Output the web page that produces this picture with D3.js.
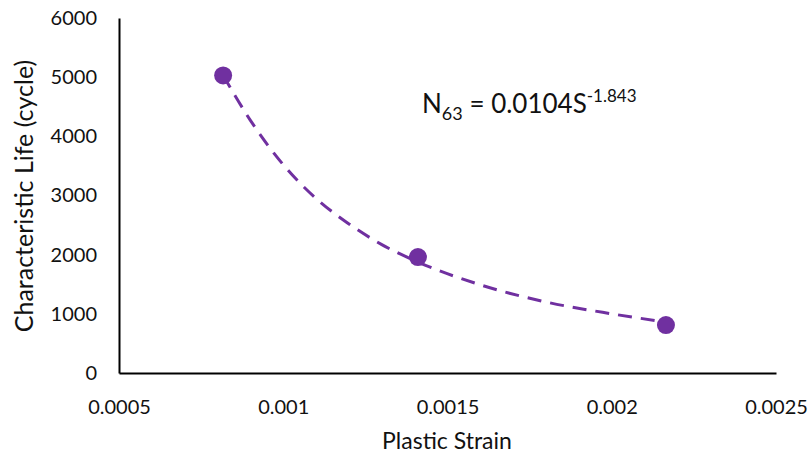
<!DOCTYPE html>
<html>
<head>
<meta charset="utf-8">
<script src="https://cdn.jsdelivr.net/npm/d3@7"></script>
<style>
  body { margin: 0; background: #fff; }
  svg { font-family: Lato, "Open Sans", sans-serif; }
</style>
</head>
<body>
<svg width="809" height="455"></svg>
<script>
// measured points
let strain = [0.000817, 0.00141, 0.002165];
let life = [5030, 1960, 810];

// trend line
let trendStrain = [0.000817, 0.0009, 0.001, 0.0011, 0.0012, 0.0013, 0.0014, 0.0016, 0.0018, 0.002, 0.002165];
let trendLife = [5030, 4270, 3520, 2950, 2520, 2170, 1900, 1490, 1200, 1000, 860];

let xTicks = [0.0005, 0.001, 0.0015, 0.002, 0.0025];
let yTicks = [0, 1000, 2000, 3000, 4000, 5000, 6000];

let purple = '#7030a0';
let svg = d3.select('svg');

let x = d3.scaleLinear().domain([0.0005, 0.0025]).range([119, 776]);
let y = d3.scaleLinear().domain([0, 6000]).range([373, 18]);

// axes (no tick marks, just labels)
let xAxis = svg.append('g')
  .attr('transform', 'translate(0,373)')
  .call(d3.axisBottom(x).tickValues(xTicks).tickSize(0).tickPadding(27).tickFormat(d => String(+d.toFixed(4))));

let yAxis = svg.append('g')
  .attr('transform', 'translate(119,0)')
  .call(d3.axisLeft(y).tickValues(yTicks).tickSize(0).tickPadding(22).tickFormat(d => d));

[xAxis, yAxis].forEach(a => {
  a.select('.domain').attr('stroke', '#000').attr('stroke-width', 2);
  a.selectAll('text').attr('font-size', 20).attr('fill', '#111').style('font-family', 'Lato, sans-serif');
});

// trend line
let trend = trendStrain.map((s, i) => ({s: s, n: trendLife[i]}));
svg.append('path')
  .datum(trend)
  .attr('fill', 'none')
  .attr('stroke', purple)
  .attr('stroke-width', 3)
  .attr('stroke-dasharray', '14,9')
  .attr('d', d3.line().x(d => x(d.s)).y(d => y(d.n)).curve(d3.curveMonotoneX));

// points
svg.selectAll('circle.pt')
  .data(strain.map((s, i) => ({s: s, n: life[i]})))
  .enter()
  .append('circle')
    .classed('pt', true)
    .attr('cx', d => x(d.s))
    .attr('cy', d => y(d.n))
    .attr('r', 9)
    .attr('fill', purple);

// axis titles
svg.append('text')
  .attr('x', 447).attr('y', 449)
  .attr('text-anchor', 'middle')
  .attr('font-size', 23)
  .attr('fill', '#111')
  .text('Plastic Strain');

svg.append('text')
  .attr('transform', 'translate(33,196) rotate(-90)')
  .attr('text-anchor', 'middle')
  .attr('font-size', 25)
  .attr('fill', '#111')
  .text('Characteristic Life (cycle)');

// equation
let eq = svg.append('text')
  .attr('x', 422).attr('y', 113)
  .attr('font-size', 26)
  .attr('fill', '#111');
eq.append('tspan').text('N');
eq.append('tspan').attr('dy', 7).attr('font-size', 18).text('63');
eq.append('tspan').attr('dy', -7).text(' = 0.0104S');
eq.append('tspan').attr('dy', -11).attr('font-size', 17).text('-1.843');
</script>
</body>
</html>
